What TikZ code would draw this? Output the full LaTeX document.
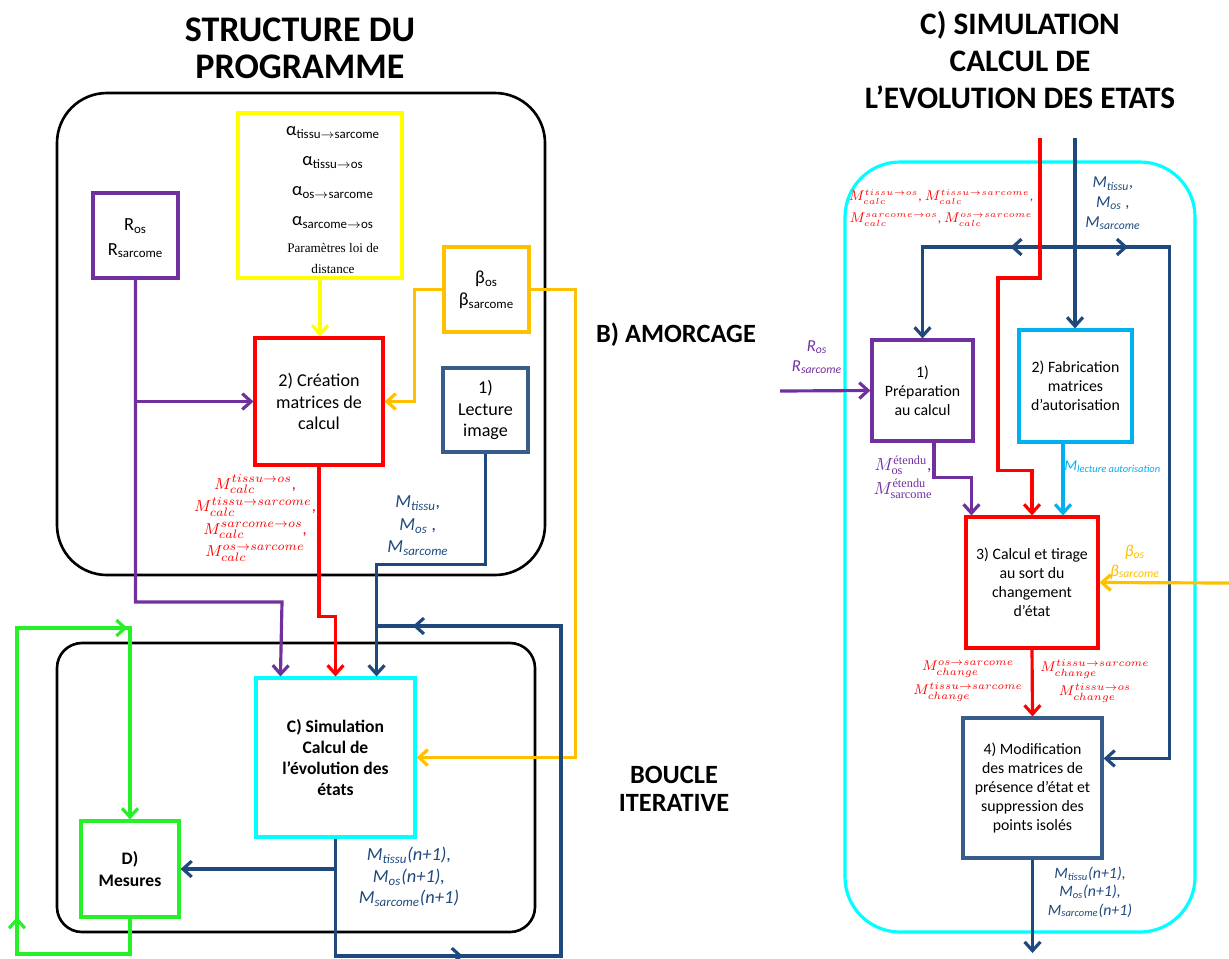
\documentclass[tikz,border=0pt]{standalone}
\usepackage{amsmath}
\usepackage{fontspec}
\setmainfont{Carlito}
\newfontfamily\serifont{Liberation Serif}
\usetikzlibrary{arrows.meta,calc,decorations.markings}

\definecolor{violetfonce}{RGB}{112,48,160}
\definecolor{rouge}{RGB}{255,0,0}
\definecolor{jaune}{RGB}{255,255,0}
\definecolor{orangeclair}{RGB}{255,192,0}
\definecolor{bleufonce}{RGB}{31,73,125}
\definecolor{bleubox}{RGB}{56,93,138}
\definecolor{cyanvif}{RGB}{0,255,255}
\definecolor{bleuciel}{RGB}{0,176,240}
\definecolor{vert}{RGB}{40,240,40}

\begin{document}
\begin{tikzpicture}[x=0.02cm, y=-0.02cm, >={Straight Barb[length=5pt,width=9pt]},
	boite/.style={draw, line width=1.8pt, inner sep=0pt, align=center},
	lien/.style={line width=1.8pt, ->},
	cadre/.style={draw, line width=1.5pt},
	texte/.style={font=\fontsize{10.3}{12.2}\selectfont},
	petit/.style={font=\fontsize{9}{10.8}\selectfont},
	titre/.style={align=center}]
	\useasboundingbox (0,0) rectangle (1229,958);

	% Titres
	\node[titre, font=\fontsize{20.5}{21}\selectfont\bfseries] (titreG) at (300,48) {STRUCTURE DU\\PROGRAMME};
	\node[titre, font=\fontsize{17.8}{21.3}\selectfont\bfseries] (titreD) at (1020,60) {C) SIMULATION\\CALCUL DE\\L’EVOLUTION DES ETATS};
	\node[titre, font=\fontsize{15}{16}\selectfont\bfseries] (amorce) at (676,335) {B) AMORCAGE};
	\node[titre, font=\fontsize{15}{16}\selectfont\bfseries] (boucle) at (674,789) {BOUCLE\\ITERATIVE};

	% Amorcage
	\draw[cadre, rounded corners=1cm] (57,93) rectangle (545,575);
	\node[boite, draw=violetfonce, minimum width=1.7cm, minimum height=1.7cm, font=\fontsize{10.5}{14}\selectfont] (rayons) at (135.5,235.5) {\\[-4pt]R\textsubscript{os}\\R\textsubscript{sarcome}};
	\node[boite, draw=jaune, minimum width=3.28cm, minimum height=3.3cm] (alphas) at (320,195.5) {};
	\node[align=center, font=\fontsize{10.5}{17}\selectfont] (alphatxt) at (333,200) {α\textsubscript{tissu$\rightarrow$sarcome}\\α\textsubscript{tissu$\rightarrow$os}\\α\textsubscript{os$\rightarrow$sarcome}\\α\textsubscript{sarcome$\rightarrow$os}\\[-1.2pt]{\serifont\fontsize{7.5}{9}\selectfont Paramètres loi de}\\[-5.4pt]{\serifont\fontsize{7.5}{9}\selectfont distance}};
	\node[boite, draw=orangeclair, minimum width=1.7cm, minimum height=1.7cm, font=\fontsize{10.5}{12.5}\selectfont] (betas) at (486.5,289.5) {β\textsubscript{os}\\β\textsubscript{sarcome}};
	\node[boite, texte, draw=rouge, minimum width=2.56cm, minimum height=2.54cm] (creation) at (319,401.5) {2) Création\\matrices de\\calcul};
	\node[boite, texte, draw=bleubox, minimum width=1.7cm, minimum height=1.68cm] (lecture) at (485.5,410) {1)\\Lecture\\image};
	\node[text=rouge, align=center, font=\fontsize{9.3}{12.8}\selectfont] (mcalc) at (255,518) {$M_{calc}^{tissu\rightarrow os}$,\\$M_{calc}^{tissu\rightarrow sarcome}$,\\$M_{calc}^{sarcome\rightarrow os}$,\\$M_{calc}^{os\rightarrow sarcome}$};
	\node[text=bleufonce, align=center, font=\fontsize{10.5}{12.8}\selectfont\itshape] (metats) at (418,526) {M\textsubscript{tissu},\\M\textsubscript{os} ,\\M\textsubscript{sarcome}};

	\draw[lien, jaune] (alphas.south) -- (alphas.south |- creation.north);
	\draw[lien, violetfonce] (rayons.south |- creation.west) -- (creation.west);
	\draw[lien, orangeclair] (betas.west) -| ($(creation.east)+(30,0)$) -- (creation.east);

	% Boucle iterative
	\draw[cadre, rounded corners=0.5cm] (57,643) rectangle (535,932);
	\node[boite, draw=cyanvif, minimum width=3.18cm, minimum height=3.18cm, font=\fontsize{10}{12.1}\selectfont\bfseries] (simul) at (335.5,757.5) {C) Simulation\\Calcul de\\l’évolution des\\états};
	\node[boite, draw=vert, minimum width=1.96cm, minimum height=1.92cm, font=\fontsize{10}{12.1}\selectfont\bfseries] (mesures) at (130,869) {D)\\Mesures};
	\node[text=bleufonce, align=center, font=\fontsize{10.5}{12.2}\selectfont\itshape] (mnext) at (409,877) {M\textsubscript{tissu}(n+1),\\M\textsubscript{os}(n+1),\\M\textsubscript{sarcome}(n+1)};
	\coordinate (jonction) at (375,626);

	\draw[lien, violetfonce] (rayons.south) |- (282,602) -- ($(simul.north west)+(26,0)$);
	\draw[lien, rouge] (creation.south) |- ($(simul.north)+(0,-60)$) -- (simul.north);
	\draw[lien, bleufonce] (lecture.south) |- ($(simul.north east)+(-40,-112)$) -- ($(simul.north east)+(-40,0)$);
	\draw[lien, orangeclair] (betas.east) -| ($(simul.east)+(159,0)$) -- (simul.east);
	\draw[line width=1.8pt, bleufonce, postaction={decorate}, decoration={markings,
		mark=at position 0.285 with {\arrow{>}}, mark=at position 0.956 with {\arrow{>}}}]
		(simul.south) |- (561,956) |- (jonction);
	\draw[lien, bleufonce] (simul.south |- mesures.east) -- (mesures.east);
	\draw[lien, vert, postaction={decorate}, decoration={markings,
		mark=at position 0.238 with {\arrow{>}}, mark=at position 0.751 with {\arrow{>}}}]
		(mesures.south) |- (17,954) -- (17,628) -| (mesures.north);

	% Simulation : calcul de l'evolution des etats
	\draw[line width=1.8pt, cyanvif, rounded corners=1.1cm] (845,162) rectangle (1195,932);
	\node[boite, petit, draw=violetfonce, minimum width=2.02cm, minimum height=2.02cm] (prep) at (922.5,390.5) {1)\\Préparation\\au calcul};
	\node[boite, petit, draw=bleuciel, minimum width=2.26cm, minimum height=2.24cm] (fabric) at (1075.5,386) {2) Fabrication\\matrices\\d’autorisation};
	\node[boite, petit, draw=rouge, minimum width=2.64cm, minimum height=2.62cm] (tirage) at (1032,582.5) {3) Calcul et tirage\\au sort du\\changement\\d’état};
	\node[boite, petit, draw=bleubox, minimum width=2.78cm, minimum height=2.8cm] (modif) at (1032.5,788) {4) Modification\\des matrices de\\présence d’état et\\suppression des\\points isolés};

	\coordinate (entreeR) at (1040,138);
	\coordinate (entreeB) at (1075,138);
	\coordinate (noeud) at (1075,247);
	\coordinate (entreeRay) at (780,391);
	\coordinate (entreeBeta) at (1229,583);
	\coordinate (sortie) at (1032.5,953);

	\node[text=rouge, align=center, font=\fontsize{7.6}{12.5}\selectfont] (mcalcD) at (941,208) {$M_{calc}^{tissu\rightarrow os}$, $M_{calc}^{tissu\rightarrow sarcome}$,\\$M_{calc}^{sarcome\rightarrow os}$, $M_{calc}^{os\rightarrow sarcome}$};
	\node[text=bleufonce, align=center, font=\fontsize{9.5}{11.3}\selectfont\itshape] (metatsD) at (1113,203) {M\textsubscript{tissu},\\M\textsubscript{os} ,\\M\textsubscript{sarcome}};
	\node[text=violetfonce, align=center, font=\fontsize{9.5}{11.3}\selectfont\itshape] (rayonsD) at (817,357) {R\textsubscript{os}\\R\textsubscript{sarcome}};
	\node[text=violetfonce, align=center, font=\fontsize{10}{13.5}\selectfont] (metendu) at (903,477) {$M^{\text{\serifont étendu}}_{\text{\serifont os}}$,\\$M^{\text{\serifont étendu}}_{\text{\serifont sarcome}}$};
	\node[text=bleuciel, anchor=west, inner sep=0pt, font=\fontsize{8.5}{10}\selectfont\itshape] (mlecture) at (1064,467) {M\textsubscript{lecture autorisation}};
	\node[text=orangeclair, align=center, font=\fontsize{9.5}{11.3}\selectfont\itshape] (betasD) at (1135,562) {β\textsubscript{os}\\β\textsubscript{sarcome}};
	\node[text=rouge, align=center, anchor=east, inner sep=0pt, font=\fontsize{8.4}{13.5}\selectfont] (mchgG) at (1023,681) {$M_{change}^{os\rightarrow sarcome}$\\$M_{change}^{tissu\rightarrow sarcome}$};
	\node[text=rouge, align=center, anchor=west, inner sep=0pt, font=\fontsize{8.4}{13.5}\selectfont] (mchgD) at (1040,681) {$M_{change}^{tissu\rightarrow sarcome}$\\$M_{change}^{tissu\rightarrow os}$};
	\node[text=bleufonce, align=center, font=\fontsize{9}{10.5}\selectfont\itshape] (mnextD) at (1090,892) {M\textsubscript{tissu}(n+1),\\M\textsubscript{os}(n+1),\\M\textsubscript{sarcome}(n+1)};

	\draw[lien, bleufonce] (entreeB) -- (entreeB |- fabric.north);
	\draw[lien, bleufonce, postaction={decorate}, decoration={markings,
		mark=at position 0.265 with {\arrow{>}}}] (noeud) -| (prep.north);
	\draw[lien, bleufonce, postaction={decorate}, decoration={markings,
		mark=at position 0.079 with {\arrow{>}}}] (noeud) -| ($(modif.north east)+(65.5,42)$) -- ($(modif.north east)+(0,42)$);
	\draw[lien, rouge] (entreeR) |- (998,278) |- ($(tirage.north)+(0,-45)$) -- (tirage.north);
	\draw[lien, violetfonce] (entreeRay) -- (prep.west);
	\draw[lien, violetfonce] ($(prep.south)+(11.5,0)$) |- ($(tirage.north west)+(7,-38)$) -- ($(tirage.north west)+(7,0)$);
	\draw[lien, bleuciel] ($(fabric.south)+(-12.5,0)$) -- ($(tirage.north)+(31,0)$);
	\draw[lien, orangeclair] (entreeBeta) -- (tirage.east);
	\draw[lien, rouge] (tirage.south) -- (modif.north);
	\draw[lien, bleufonce] (modif.south) -- (sortie);
\end{tikzpicture}
\end{document}
